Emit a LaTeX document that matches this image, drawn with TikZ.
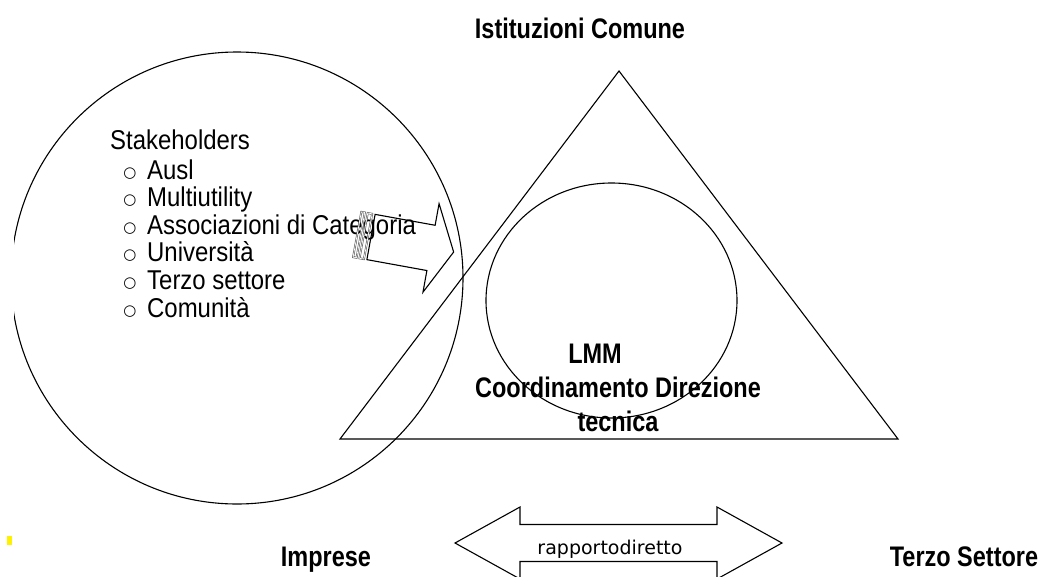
\documentclass[tikz,border=0pt]{standalone}
\usepackage{fontspec}
\setmainfont{Liberation Sans}
\newfontfamily\narrowfont{Liberation Sans}[FakeStretch=0.88]
\newfontfamily\labelfont{Liberation Sans}[FakeStretch=0.83]
\newfontfamily\dejavu{DejaVu Sans}
\tikzset{
	shape line/.style={line width=1.1pt, draw=black},
	title label/.style={font=\labelfont\bfseries\fontsize{28.3}{30}\selectfont, inner sep=0pt, anchor=base},
	stake item/.style={font=\narrowfont\fontsize{27.2}{29}\selectfont, inner sep=0pt, anchor=base west},
	bullet mark/.style={font=\dejavu\fontsize{15}{15}\selectfont, inner sep=0pt},
	stripe box/.style={draw=black!65, line width=0.6pt, double=white, double distance=0.7pt},
}

\begin{document}
\begin{tikzpicture}[x=1pt, y=-1pt]
			%%%%% START %%%%%
			\useasboundingbox (0, 0) rectangle (1042, 576);
			
			% stakeholders circle, cut at the left edge
			\begin{scope}
				\clip (14, 0) rectangle (1042, 576);
				\draw[shape line] (237, 278) circle [radius=226pt];
			\end{scope}
			
			\draw[fill=yellow, draw=none] (7, 536) rectangle (12, 545);
			
			% triangle and inner ellipse
			\draw[shape line] (619, 71) -- (898, 439) -- (340, 439) -- cycle;
			\draw[shape line] (611.5, 300.5) ellipse [x radius=125.5pt, y radius=117.5pt];
			
			\node[title label] (istituzioni) at (580, 38) {Istituzioni Comune};
			\node[title label] (lmm) at (595, 363) {LMM};
			\node[title label] (coordinamento) at (618, 397) {Coordinamento Direzione};
			\node[title label] (tecnica) at (618, 431) {tecnica};
			\node[title label] (imprese) at (326, 566) {Imprese};
			\node[title label] (terzo) at (964, 566) {Terzo Settore};
			
			% stakeholders list
			\node[stake item] (stakeholders) at (110, 149) {Stakeholders};
			\foreach \nm/\txt [count=\i] in {ausl/Ausl, multi/Multiutility, assoc/Associazioni di Categoria, univ/Università, terzoset/Terzo settore, comunita/Comunità}{
				\node[bullet mark] (bul-\nm) at (130, 145.6+27.6*\i) {○};
				\node[stake item] (item-\nm) at (147, 151.4+27.6*\i) {\txt};
			}
			
			% striped arrow towards the triangle
			\begin{scope}[shift={(371, 237)}, rotate=-10.3]
				\draw[stripe box] (-14, -23) rectangle (-10.5, 23);
				\draw[stripe box] (-7.5, -23) rectangle (-3, 23);
				\draw[shape line] (0, -23) -- (61, -23) -- (61, -45) -- (84, 0) -- (61, 45) -- (61, 23) -- (0, 23) -- cycle;
			\end{scope}
			
			% double arrow at the bottom
			\draw[shape line] (455, 543) -- (520, 507) -- (520, 524.5) -- (717, 524.5) -- (717, 507) -- (782, 543)
				-- (717, 579) -- (717, 561.5) -- (520, 561.5) -- (520, 579) -- cycle;
			\node[font=\dejavu\fontsize{19}{20}\selectfont, inner sep=0pt, anchor=base] (rapporto) at (610, 554) {rapportodiretto};
			
			%%%%% END %%%%%
		\end{tikzpicture}
\end{document}
